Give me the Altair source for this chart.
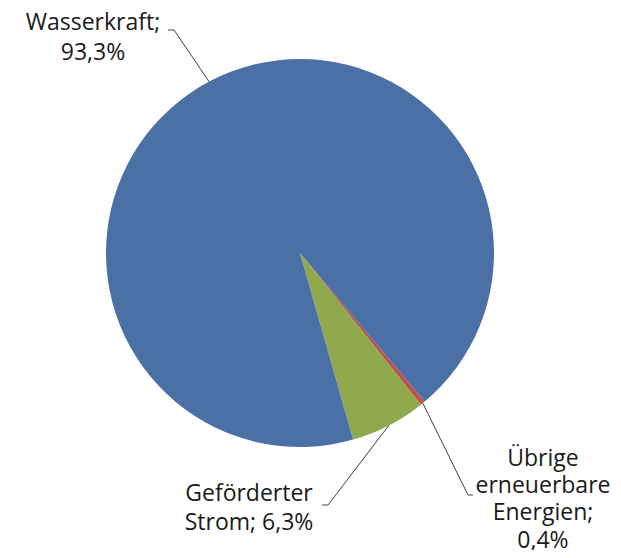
import math
import altair as alt
import pandas as pd

# ---- data ----
categories = ["Übrige erneuerbare Energien", "Geförderter Strom", "Wasserkraft"]
values = [0.4, 6.3, 93.3]
colors = ["#C0504D", "#8FAA4D", "#4A70A6"]
# label text pieces: name lines; the value is appended to the last line
label_name_lines = [["Übrige", "erneuerbare", "Energien;"], ["Geförderter", "Strom;"], ["Wasserkraft;"]]
value_on_new_line = [True, False, True]

# ---- layout (chart pixel coordinates, styles) ----
W, H = 605, 542
CX, CY, R = 292, 245, 194
START_DEG = 140.0
label_center_x = [535, 241, 85]
label_top_y = [437, 471, 0]
label_line_h = [27.3, 29, 30]
elbow = [(460, 487), (320, 497), (166, 22)]
elbow_end = [(465, 487), (314, 497), (160, 22)]
FONT = "Open Sans"
FSIZE = 23

df = pd.DataFrame({"cat": categories, "val": values, "idx": list(range(len(values)))})

# leader lines: start on pie edge at slice mid-angle
total = sum(values)
cum = 0.0
line_rows = []
text_rows = []
for i, (c, v) in enumerate(zip(categories, values)):
    mid = START_DEG + (cum + v / 2) / total * 360.0
    cum += v
    a = math.radians(mid)
    ex, ey = CX + R * math.sin(a), CY - R * math.cos(a)
    pts = [(ex, ey), elbow[i], elbow_end[i]]
    for k, (px, py) in enumerate(pts):
        line_rows.append({"cat": c, "k": k, "px": px, "py": py})
    vs = f"{v:.1f}".replace(".", ",") + "%"
    lines = list(label_name_lines[i])
    if value_on_new_line[i]:
        lines.append(vs)
    else:
        lines[-1] = lines[-1] + " " + vs
    for j, t in enumerate(lines):
        text_rows.append({"cat": c, "t": t, "px": label_center_x[i],
                          "py": label_top_y[i] + label_line_h[i] * (j + 0.5)})

lines_df = pd.DataFrame(line_rows)
text_df = pd.DataFrame(text_rows)

start = math.radians(START_DEG)
pie = alt.Chart(df).mark_arc(radius=R, stroke=None).encode(
    theta=alt.Theta("val:Q", stack=True, scale=alt.Scale(range=[start, start + 2 * math.pi])),
    order=alt.Order("idx:O"),
    color=alt.Color("cat:N", scale=alt.Scale(domain=categories, range=colors), legend=None),
    x=alt.value(CX),
    y=alt.value(CY),
)

leaders = alt.Chart(lines_df).mark_line(color="#404040", strokeWidth=1).encode(
    x=alt.X("px:Q", scale=None, axis=None),
    y=alt.Y("py:Q", scale=None, axis=None),
    detail="cat:N",
    order="k:Q",
)

labels = alt.Chart(text_df).mark_text(font=FONT, fontSize=FSIZE, color="#1a1a1a",
                                      align="center", baseline="middle").encode(
    x=alt.X("px:Q", scale=None, axis=None),
    y=alt.Y("py:Q", scale=None, axis=None),
    text="t:N",
)

chart = alt.layer(pie, leaders, labels).properties(
    width=W, height=H, autosize=alt.AutoSizeParams(type="none"), padding=0,
    background="white",
).configure_view(stroke=None)

chart.save("out.html", embed_options={"renderer": "svg", "actions": False})
